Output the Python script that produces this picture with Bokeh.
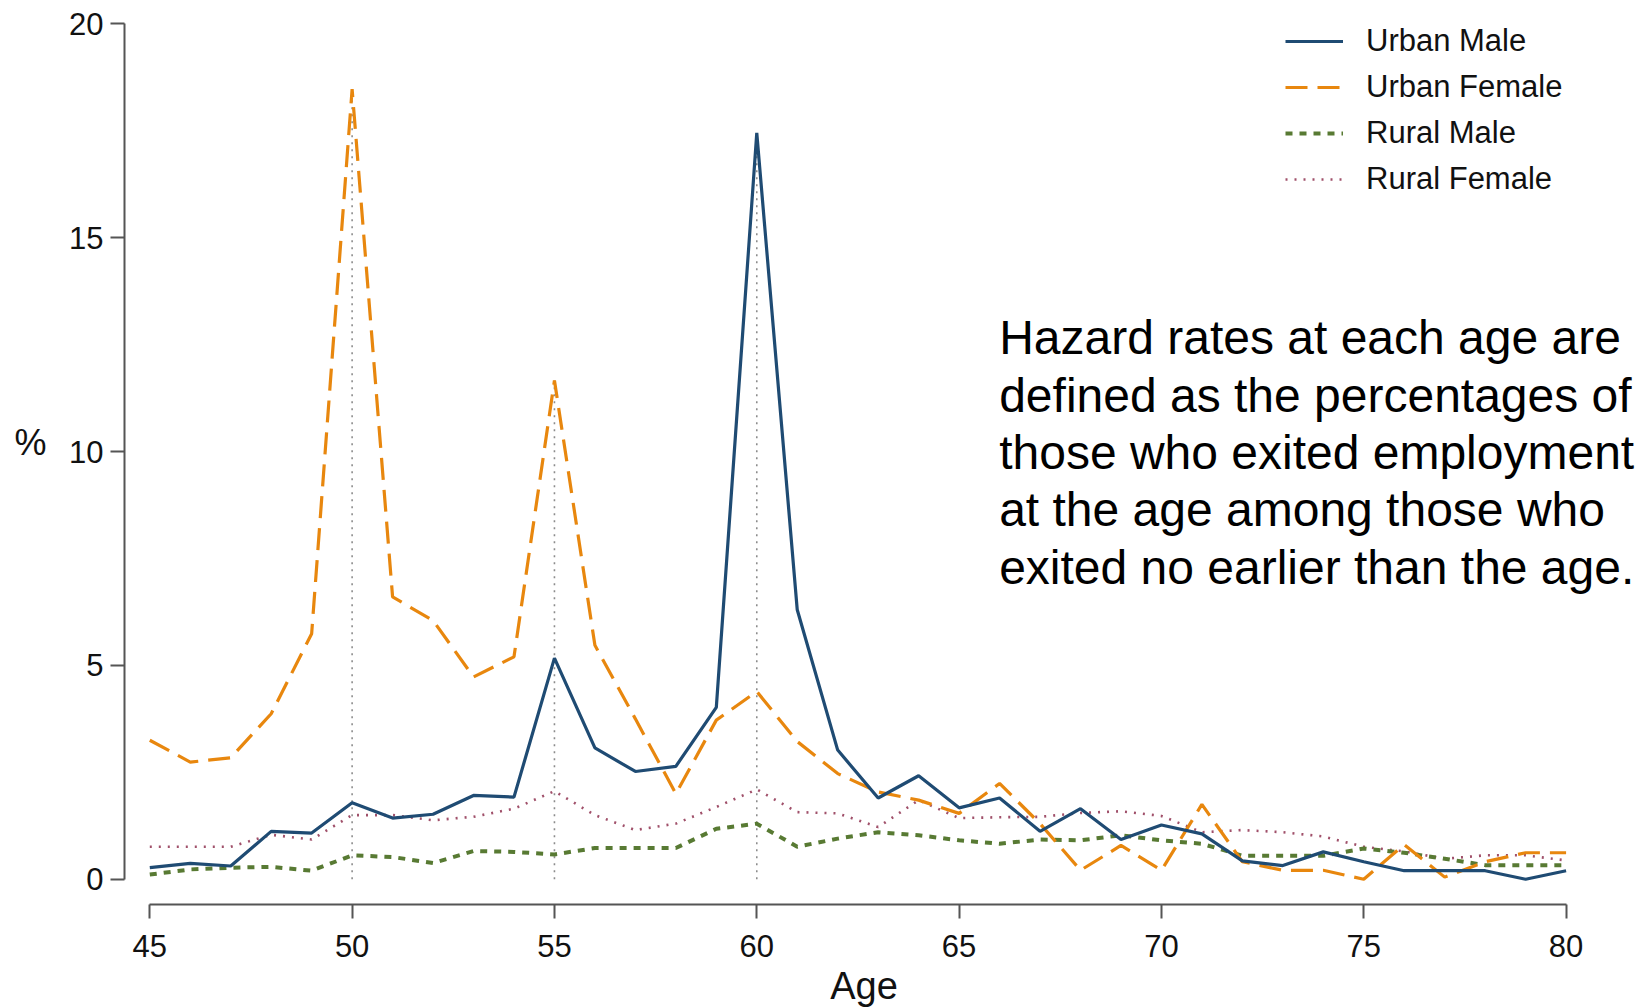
from bokeh.plotting import figure
from bokeh.models import (Range1d, FixedTicker, Legend, LegendItem,
                          ColumnDataSource, LinearAxis)
from bokeh.core.properties import value
from bokeh.embed import file_html
from bokeh.resources import INLINE

ages = list(range(45, 81))

urban_male = [0.27, 0.37, 0.31, 1.12, 1.08, 1.79, 1.43, 1.52, 1.96, 1.92,
              5.17, 3.07, 2.52, 2.64, 4.02, 17.45, 6.30, 3.02, 1.90, 2.42,
              1.67, 1.90, 1.12, 1.65, 0.93, 1.27, 1.06, 0.43, 0.32, 0.64,
              0.41, 0.20, 0.20, 0.20, 0.00, 0.20]
urban_female = [3.25, 2.74, 2.84, 3.87, 5.74, 18.47, 6.60, 6.05, 4.73, 5.20,
                11.66, 5.47, 3.75, 2.00, 3.72, 4.39, 3.22, 2.47, 2.04, 1.85,
                1.54, 2.24, 1.30, 0.21, 0.79, 0.21, 1.75, 0.41, 0.21, 0.21,
                0.00, 0.81, 0.05, 0.41, 0.62, 0.62]
rural_male = [0.11, 0.23, 0.27, 0.29, 0.20, 0.56, 0.52, 0.38, 0.66, 0.64,
              0.58, 0.73, 0.73, 0.73, 1.18, 1.30, 0.76, 0.95, 1.10, 1.03,
              0.91, 0.83, 0.93, 0.91, 1.03, 0.91, 0.83, 0.55, 0.55, 0.55,
              0.72, 0.62, 0.48, 0.33, 0.33, 0.33]
rural_female = [0.76, 0.76, 0.76, 1.04, 0.93, 1.50, 1.50, 1.38, 1.46, 1.65,
                2.06, 1.50, 1.15, 1.30, 1.69, 2.10, 1.57, 1.54, 1.22, 1.85,
                1.43, 1.45, 1.46, 1.55, 1.59, 1.48, 1.10, 1.15, 1.10, 1.00,
                0.76, 0.65, 0.48, 0.56, 0.56, 0.44]

series_names = ["Urban Male", "Urban Female", "Rural Male", "Rural Female"]
guide_ages = [50, 55, 60]
y_ticks = [0, 5, 10, 15, 20]
x_ticks = [45, 50, 55, 60, 65, 70, 75, 80]
x_title = "Age"
y_title = "%"
note_lines = [
    "Hazard rates at each age are",
    "defined as the percentages of",
    "those who exited employment",
    "at the age among those who",
    "exited no earlier than the age.",
]

FONT = "Liberation Sans"

p = figure(frame_width=1512, frame_height=888, output_backend="svg",
           toolbar_location=None,
           x_range=Range1d(44.375, 81.74), y_range=Range1d(-0.59, 20.17),
           min_border_left=124, min_border_right=0, min_border_top=16,
           min_border_bottom=60)
p.outline_line_color = None
p.xgrid.visible = False
p.ygrid.visible = False
p.background_fill_color = "white"

all_series = [urban_male, urban_female, rural_male, rural_female]
for a in guide_ages:
    i = ages.index(a)
    top = max(s[i] for s in all_series)
    p.segment(x0=[a], y0=[0], x1=[a], y1=[top], line_color="#8c8c8c",
              line_width=1.6, line_dash="2 5")

src = ColumnDataSource(dict(age=ages, um=urban_male, uf=urban_female,
                            rm=rural_male, rf=rural_female))

r_rf = p.line("age", "rf", source=src, line_color="#a0506a", line_width=2.6,
              line_dash="2 7")
r_rm = p.line("age", "rm", source=src, line_color="#587a33", line_width=4,
              line_dash="7 7")
r_uf = p.line("age", "uf", source=src, line_color="#e8870e", line_width=3.2,
              line_dash="22 10")
r_um = p.line("age", "um", source=src, line_color="#1f4b73", line_width=3.2)

legend = Legend(items=[LegendItem(label=series_names[0], renderers=[r_um]),
                       LegendItem(label=series_names[1], renderers=[r_uf]),
                       LegendItem(label=series_names[2], renderers=[r_rm]),
                       LegendItem(label=series_names[3], renderers=[r_rf])],
                location=(1161, 705))
legend.glyph_width = 58
legend.glyph_height = 40
legend.label_height = 40
legend.spacing = 6
legend.padding = 0
legend.margin = 0
legend.label_standoff = 23
legend.label_text_font = FONT
legend.label_text_font_size = "31px"
legend.label_text_color = "#111111"
legend.border_line_color = None
legend.background_fill_alpha = 0
p.add_layout(legend)

base_y = 12.66
step = 1.34
p.text(x=[65.99] * len(note_lines),
       y=[base_y - k * step for k in range(len(note_lines))],
       text=note_lines, text_font=value(FONT), text_font_size="48px",
       text_baseline="alphabetic", text_align="left", text_color="black")

for ax in (p.xaxis[0], p.yaxis[0]):
    ax.axis_line_color = "#555555"
    ax.axis_line_width = 2
    ax.major_tick_line_color = "#555555"
    ax.major_tick_line_width = 2
    ax.major_tick_out = 14
    ax.major_tick_in = 0
    ax.minor_tick_line_color = None
    ax.major_label_text_font = FONT
    ax.major_label_text_font_size = "31px"
    ax.major_label_text_color = "#111111"

p.yaxis[0].ticker = FixedTicker(ticks=y_ticks)
p.yaxis[0].bounds = (0, 20)
p.yaxis[0].major_label_standoff = 7

p.xaxis[0].ticker = FixedTicker(ticks=x_ticks)
p.xaxis[0].bounds = (45, 80)
p.xaxis[0].major_label_standoff = 16

# axis titles, placed like the original (centred on the bounded axis part)
y_title_pos = 10.2
x_title_pos = 62.65
ytitle_axis = LinearAxis(ticker=FixedTicker(ticks=[y_title_pos]),
                         major_label_overrides={y_title_pos: y_title},
                         axis_line_color=None, major_tick_line_color=None,
                         minor_tick_line_color=None, major_tick_out=0,
                         major_tick_in=0, major_label_standoff=20,
                         major_label_text_font=FONT,
                         major_label_text_font_size="36px",
                         major_label_text_color="#111111")
p.add_layout(ytitle_axis, "left")

xtitle_axis = LinearAxis(ticker=FixedTicker(ticks=[x_title_pos]),
                         major_label_overrides={x_title_pos: x_title},
                         axis_line_color=None, major_tick_line_color=None,
                         minor_tick_line_color=None, major_tick_out=0,
                         major_tick_in=0, major_label_standoff=5,
                         major_label_text_font=FONT,
                         major_label_text_font_size="38px",
                         major_label_text_color="#111111")
p.add_layout(xtitle_axis, "below")

open("out.html", "w").write(file_html(p, INLINE))
